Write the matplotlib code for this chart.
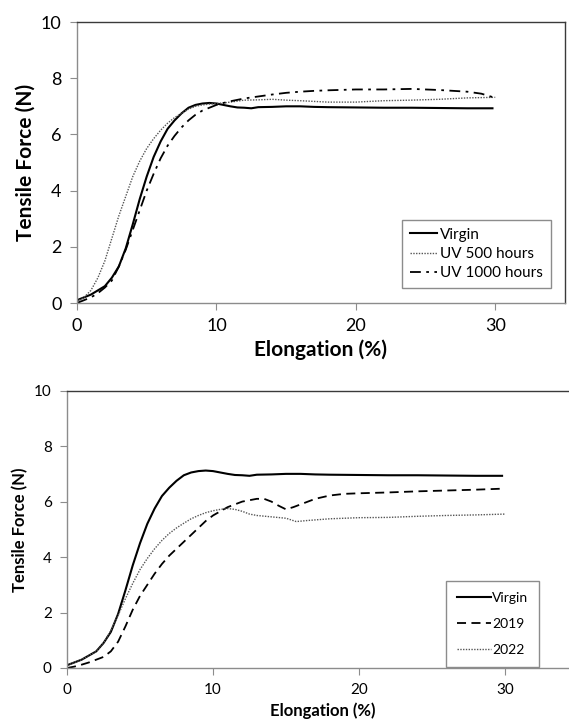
import matplotlib
matplotlib.use("Agg")
import matplotlib.pyplot as plt

plt.rcParams["font.family"] = ["Lato", "DejaVu Sans"]

# ── Top panel: UV exposure ────────────────────────────────────────────────────
virgin_x = [0, 0.5, 1, 1.5, 2, 2.5, 3, 3.5, 4, 4.5, 5, 5.5, 6, 6.5, 7, 7.5, 8,
            8.5, 9, 9.5, 10, 10.5, 11, 11.5, 12, 12.5, 13, 14, 15, 16, 17, 18,
            20, 22, 24, 26, 28, 29.8]
virgin_y = [0.1, 0.2, 0.3, 0.45, 0.6, 0.9, 1.3, 1.95, 2.8, 3.7, 4.5, 5.2, 5.75,
            6.2, 6.5, 6.75, 6.95, 7.05, 7.1, 7.12, 7.1, 7.05, 7.0, 6.96, 6.95,
            6.93, 6.97, 6.98, 7.0, 7.0, 6.98, 6.97, 6.96, 6.95, 6.95, 6.94,
            6.93, 6.93]

uv500_x = [0, 0.5, 1, 1.5, 2, 2.5, 3, 3.5, 4, 4.5, 5, 5.5, 6, 6.5, 7, 7.5, 8,
           8.5, 9, 9.5, 10, 10.5, 11, 12, 13, 14, 15, 16, 18, 20, 22, 24, 26,
           28, 30]
uv500_y = [0.05, 0.2, 0.45, 0.9, 1.5, 2.3, 3.1, 3.8, 4.5, 5.05, 5.5, 5.85,
           6.15, 6.4, 6.6, 6.75, 6.9, 7.0, 7.05, 7.08, 7.1, 7.12, 7.15, 7.22,
           7.23, 7.25, 7.22, 7.2, 7.15, 7.15, 7.2, 7.22, 7.25, 7.3, 7.32]

uv1000_x = [0, 0.5, 1, 1.5, 2, 2.5, 3, 3.5, 4, 4.5, 5, 5.5, 6, 6.5, 7, 7.5, 8,
            8.5, 9, 9.5, 10, 10.5, 11, 12, 13, 14, 15, 16, 17, 18, 20, 22, 24,
            26, 28, 29, 30]
uv1000_y = [0.0, 0.1, 0.2, 0.35, 0.55, 0.8, 1.3, 1.9, 2.6, 3.3, 4.0, 4.6, 5.15,
            5.6, 5.95, 6.25, 6.5, 6.7, 6.85, 6.95, 7.05, 7.12, 7.18, 7.28,
            7.35, 7.42, 7.48, 7.52, 7.55, 7.57, 7.6, 7.6, 7.62, 7.58, 7.52,
            7.45, 7.3]

# ── Bottom panel: field years ─────────────────────────────────────────────────
y2019_x = [0, 0.5, 1, 1.5, 2, 2.5, 3, 3.5, 4, 4.5, 5, 5.5, 6, 6.5, 7, 7.5, 8,
           8.5, 9, 9.5, 10, 10.5, 11, 11.5, 12, 12.5, 13, 13.5, 14, 14.5, 15,
           15.5, 16, 17, 18, 19, 20, 22, 24, 26, 28, 30]
y2019_y = [0.0, 0.05, 0.12, 0.2, 0.3, 0.4, 0.6, 0.95, 1.5, 2.1, 2.6, 3.0, 3.4,
           3.75, 4.05, 4.3, 4.55, 4.8, 5.05, 5.3, 5.5, 5.65, 5.8, 5.9, 6.0,
           6.05, 6.1, 6.1, 6.0, 5.85, 5.72, 5.8, 5.9, 6.1, 6.22, 6.28, 6.3,
           6.33, 6.37, 6.4, 6.43, 6.47]

y2022_x = [0, 0.5, 1, 1.5, 2, 2.5, 3, 3.5, 4, 4.5, 5, 5.5, 6, 6.5, 7, 7.5, 8,
           8.5, 9, 9.5, 10, 10.5, 11, 11.5, 12, 12.5, 13, 14, 15, 15.7, 16.5,
           18, 20, 22, 24, 26, 28, 30]
y2022_y = [0.1, 0.2, 0.3, 0.45, 0.6, 0.9, 1.35, 1.9, 2.5, 3.05, 3.55, 3.95,
           4.3, 4.6, 4.85, 5.05, 5.22, 5.38, 5.5, 5.6, 5.67, 5.72, 5.75, 5.72,
           5.65, 5.55, 5.5, 5.45, 5.4, 5.28, 5.32, 5.38, 5.42, 5.43, 5.47,
           5.5, 5.52, 5.55]

x_ticks = [0, 10, 20, 30]
y_ticks = [0, 2, 4, 6, 8, 10]

GRID_GREY = "#8c8c8c"
DARK = "#3a3a3a"

fig = plt.figure(figsize=(5.69, 7.22), dpi=100)
ax1 = fig.add_axes([0.1353, 0.5803, 0.8576, 0.3892])
ax2 = fig.add_axes([0.1178, 0.0748, 0.898, 0.3841])


def style_axes(ax, tick_size, label_size, right_visible=True):
    ax.set_xlim(0, 35)
    ax.set_ylim(0, 10)
    ax.set_xticks(x_ticks)
    ax.set_yticks(y_ticks)
    ax.tick_params(direction="out", length=5, width=0.8, color=GRID_GREY,
                   labelsize=tick_size, pad=6)
    ax.spines["left"].set_color(GRID_GREY)
    ax.spines["bottom"].set_color(GRID_GREY)
    ax.spines["top"].set_color(DARK)
    ax.spines["right"].set_color(DARK)
    ax.spines["right"].set_visible(right_visible)
    for s in ax.spines.values():
        s.set_linewidth(1.0)
    ax.set_xlabel("Elongation (%)", fontsize=label_size, fontweight="bold")
    ax.set_ylabel("Tensile Force (N)", fontsize=label_size, fontweight="bold")


# top
ax1.plot(virgin_x, virgin_y, color="black", lw=1.5, ls="-", label="Virgin")
ax1.plot(uv500_x, uv500_y, color="#555555", lw=1.0, ls=(0, (1, 1)),
         label="UV 500 hours")
ax1.plot(uv1000_x, uv1000_y, color="black", lw=1.3, ls=(0, (6, 3, 1.5, 3)),
         label="UV 1000 hours")
style_axes(ax1, 13, 15)
ax1.legend(loc="upper left", bbox_to_anchor=(0.666, 0.295), fontsize=11,
           frameon=True, fancybox=False, edgecolor=GRID_GREY, framealpha=1,
           handlelength=1.8, handletextpad=0.2, labelspacing=0.35,
           borderpad=0.5, borderaxespad=0)

# bottom
ax2.plot(virgin_x, virgin_y, color="black", lw=1.5, ls="-", label="Virgin")
ax2.plot(y2019_x, y2019_y, color="black", lw=1.3, ls=(0, (5, 3)),
         label="2019")
ax2.plot(y2022_x, y2022_y, color="#555555", lw=1.0, ls=(0, (1, 1)),
         label="2022")
style_axes(ax2, 11, 12, right_visible=False)
ax2.legend(loc="upper left", bbox_to_anchor=(0.742, 0.314), fontsize=10,
           frameon=True, fancybox=False, edgecolor=GRID_GREY, framealpha=1,
           handlelength=2.4, handletextpad=0.1, labelspacing=1.0,
           borderpad=0.8, borderaxespad=0)

fig.savefig("out.png", dpi=100)
